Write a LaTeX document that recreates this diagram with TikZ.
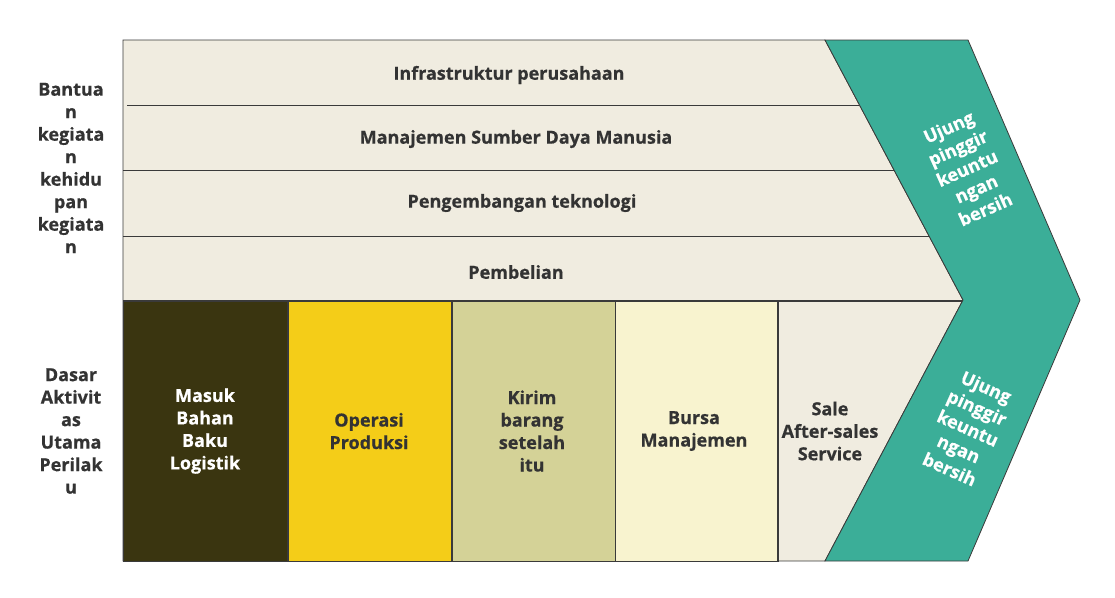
\documentclass[tikz,border=0pt]{standalone}
\usepackage{fontspec}
\setmainfont{Open Sans}[BoldFeatures={FakeBold=0.6}]
\definecolor{beige}{HTML}{F0ECE0}
\definecolor{olive}{HTML}{3A3510}
\definecolor{gold}{HTML}{F4CD18}
\definecolor{khaki}{HTML}{D4D297}
\definecolor{cream}{HTML}{F8F3CF}
\definecolor{teal}{HTML}{3BAE98}
\definecolor{ink}{HTML}{333333}
\definecolor{edge}{HTML}{3A3A3A}
\begin{document}
\begin{tikzpicture}[x=1pt,y=-1pt,
  lbl/.style={font=\bfseries\fontsize{18}{22.5}\selectfont,text=ink,align=center,inner sep=0pt},
  wlbl/.style={lbl,text=white},
  actbox/.style={draw=edge,line width=0.8pt,minimum width=163pt,minimum height=260pt,anchor=north west,inner sep=0pt},
  band/.style={draw=edge,line width=0.8pt}]
\useasboundingbox (0,0) rectangle (1115,597);
% support area
\draw[band,fill=beige] (123,40) -- (825,40) -- (963,300) -- (825,561) -- (123,561) -- cycle;
\coordinate (b1l) at (127,105); \coordinate (b1r) at (859,105);
\coordinate (b2l) at (123,170); \coordinate (b2r) at (894,170);
\coordinate (b3l) at (123,236); \coordinate (b3r) at (929,236);
\coordinate (b4l) at (123,300); \coordinate (b4r) at (963,300);
\draw[band] (b1l) -- (b1r);
\draw[band] (b2l) -- (b2r);
\draw[band] (b3l) -- (b3r);
\draw[band] (b4l) -- (b4r);
% primary boxes
\node[actbox,fill=olive,minimum width=164pt] (p1) at (123,301) {};
\node[actbox,fill=gold] (p2) at (288,301) {};
\node[actbox,fill=khaki] (p3) at (452,301) {};
\node[actbox,fill=cream] (p4) at (615,301) {};
\coordinate (p5tl) at (777,301); \coordinate (p5bl) at (777,561);
\coordinate (p5tr) at (962,301);
\draw[band] (p5bl) -- (p5tl) -- (p5tr);
% margin chevron
\draw[band,fill=teal] (825,40) -- (968,40) -- (1080,300) -- (968,561) -- (825,561) -- (963,300) -- cycle;
% band labels
\node[lbl] (t1) at (509,75) {Infrastruktur perusahaan};
\node[lbl] (t2) at (516,139) {Manajemen Sumber Daya Manusia};
\node[lbl] (t3) at (522,203) {Pengembangan teknologi};
\node[lbl] (t4) at (516,272) {Pembelian};
% primary labels
\node[wlbl] (l1) at (205,431) {Masuk\\Bahan\\Baku\\Logistik};
\node[lbl] (l2) at (369,431) {Operasi\\Produksi};
\node[lbl] (l3) at (532,431) {Kirim\\barang\\setelah\\itu};
\node[lbl] (l4) at (694,431) {Bursa\\Manajemen};
\node[lbl] (l5) at (830,431) {Sale\\After-sales\\Service};
% left labels
\node[lbl] (s1) at (71,168) {Bantua\\n\\kegiata\\n\\kehidu\\pan\\kegiata\\n};
\node[lbl] (s2) at (71,431) {Dasar\\Aktivit\\as\\Utama\\Perilak\\u};
% margin labels
\node[wlbl,rotate=24] (m1) at (967,168) {Ujung\\pinggir\\keuntu\\ngan\\bersih};
\node[wlbl,rotate=-24] (m2) at (968,428) {Ujung\\pinggir\\keuntu\\ngan\\bersih};
\end{tikzpicture}
\end{document}
